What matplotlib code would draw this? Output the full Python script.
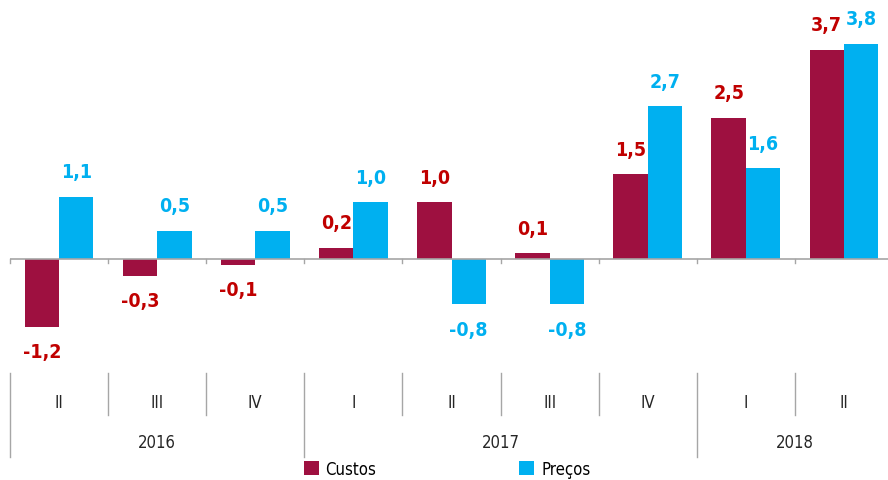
import matplotlib.pyplot as plt
import numpy as np

plt.rcParams['font.family'] = ['DejaVu Sans']
plt.rcParams['font.stretch'] = 'condensed'

quarters = ['II', 'III', 'IV', 'I', 'II', 'III', 'IV', 'I', 'II']
years = ['2016', '2017', '2018']
year_spans = [(0, 2), (3, 6), (7, 8)]
custos = [-1.2, -0.3, -0.1, 0.2, 1.0, 0.1, 1.5, 2.5, 3.7]
precos = [1.1, 0.5, 0.5, 1.0, -0.8, -0.8, 2.7, 1.6, 3.8]

c_bar = '#9E1040'
c_lab = '#C00000'
p_col = '#00B0F0'
grey = '#A6A6A6'

fig = plt.figure(figsize=(8.88, 4.81), dpi=100)
ax = fig.add_axes([10 / 888, 1 - 374 / 481, 883 / 888, 374 / 481])
x = np.arange(len(quarters))
w = 0.35
b1 = ax.bar(x - w / 2, custos, w, color=c_bar, label='Custos')
b2 = ax.bar(x + w / 2, precos, w, color=p_col, label='Preços')

ax.set_xlim(-0.5, len(quarters) - 0.5)
ax.set_ylim(-114 / 56.6, 260 / 56.6)
ax.axhline(0, color=grey, lw=1.2, zorder=3)
for b in np.arange(len(quarters) + 1) - 0.5:
    ax.plot([b, b], [0, -0.07], color=grey, lw=1, clip_on=False, zorder=3)

# value labels
for bars, vals, col in [(b1, custos, c_lab), (b2, precos, p_col)]:
    for r, v in zip(bars, vals):
        off = 25 if v >= 0 else -25
        ax.annotate(f'{v:.1f}'.replace('.', ','), (r.get_x() + r.get_width() / 2, v),
                    xytext=(0, off), textcoords='offset pixels', ha='center', va='center',
                    fontsize=14, fontweight='bold', color=col)

ax.axis('off')

# category axis below
tr = ax.get_xaxis_transform()
for i, q in enumerate(quarters):
    ax.text(i, -0.0775, q, transform=tr, ha='center', va='center', fontsize=12, color='#262626')
year_bounds = [-0.5, 2.5, 6.5]
for b in np.arange(len(quarters)) - 0.5:
    lo = -0.2246 if b in year_bounds else -0.1123
    ax.plot([b, b], [0, lo], transform=tr, color=grey, lw=1, clip_on=False)
for y, (a, e) in zip(years, year_spans):
    ax.text((a + e) / 2, -0.1845, y, transform=tr, ha='center', va='center', fontsize=12, color='#262626')

fig.legend(handles=[b1, b2], loc='center', bbox_to_anchor=(447 / 888, 1 - 470 / 481), ncol=2,
           frameon=False, fontsize=12, handlelength=0.9, handleheight=0.9, handletextpad=0.4,
           columnspacing=8.6)

fig.savefig('out.png', dpi=100)
